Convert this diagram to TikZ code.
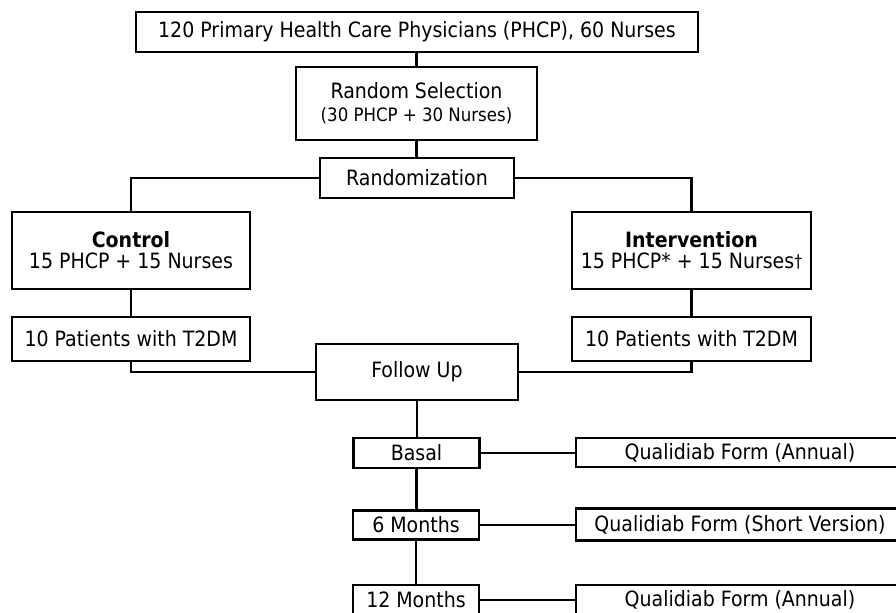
\documentclass[tikz,border=0pt]{standalone}
\usepackage{fontspec}
\setmainfont{DejaVu Sans Condensed}
\usetikzlibrary{positioning}

\tikzset{
  box/.style={draw, line width=1.4pt, fill=white, inner sep=1pt, align=center,
    font=\fontsize{12}{14}\selectfont},
  link/.style={line width=1.5pt},
}

\begin{document}
\begin{tikzpicture}[x=0.02cm, y=-0.02cm]
                \useasboundingbox (0,0) rectangle (896,612);
                \node[box, minimum width=11.24cm, minimum height=0.8cm] (pool) at (417,32) {120 Primary Health Care Physicians (PHCP), 60 Nurses};
                \node[box, minimum width=4.82cm, minimum height=1.46cm] (select) at (416.5,103.5) {Random Selection\\[-1pt]{\fontsize{10.5}{12}\selectfont (30 PHCP + 30 Nurses)}};
                \node[box, minimum width=3.88cm, minimum height=0.8cm] (rand) at (417,178) {Randomization};
                \node[box, minimum width=4.76cm, minimum height=1.54cm] (ctrl) at (131,250.5) {\textbf{Control}\\[-2pt]15 PHCP + 15 Nurses};
                \node[box, minimum width=4.78cm, minimum height=1.54cm] (intv) at (691.5,250.5) {\textbf{Intervention}\\[-2pt]15 PHCP* + 15 Nurses\raisebox{1pt}{\fontsize{10}{12}\selectfont\dag}};
                \node[box, minimum width=4.76cm, minimum height=0.88cm] (patl) at (131,339) {10 Patients with T2DM};
                \node[box, minimum width=4.78cm, minimum height=0.88cm] (patr) at (691.5,339) {10 Patients with T2DM};
                \node[box, minimum width=4.04cm, minimum height=1.12cm] (follow) at (417,372) {Follow Up};
                \node[box, minimum width=2.52cm, minimum height=0.6cm] (basal) at (416.5,453) {Basal};
                \node[box, minimum width=2.52cm, minimum height=0.58cm] (six) at (416,525) {6 Months};
                \node[box, minimum width=2.52cm, minimum height=0.6cm] (twelve) at (416,600) {12 Months};
                \node[box, minimum width=6.56cm, minimum height=0.58cm] (formA) at (740,452.5) {Qualidiab Form (Annual)};
                \node[box, minimum width=6.56cm, minimum height=0.64cm] (formB) at (740,524.5) {Qualidiab Form (Short Version)};
                \node[box, minimum width=6.56cm, minimum height=0.6cm] (formC) at (740,600) {Qualidiab Form (Annual)};
                % connectors
                \draw[link] (select.north) -- (select.north |- pool.south);
                \draw[link] (select.south) -- (select.south |- rand.north);
                \draw[link] (rand.west) -| (ctrl.north);
                \draw[link] (rand.east) -| (intv.north);
                \draw[link] (ctrl.south) -- (patl.north);
                \draw[link] (intv.south) -- (patr.north);
                \draw[link] (patl.south) |- (follow.west);
                \draw[link] (patr.south) |- (follow.east);
                \draw[link] (follow.south) -- (follow.south |- basal.north);
                \draw[link] (basal.south) -- (basal.south |- six.north);
                \draw[link] (six.south) -- (six.south |- twelve.north);
                \draw[link] (basal.east) -- (basal.east -| formA.west);
                \draw[link] (six.east) -- (six.east -| formB.west);
                \draw[link] (twelve.east) -- (twelve.east -| formC.west);
        \end{tikzpicture}
\end{document}
